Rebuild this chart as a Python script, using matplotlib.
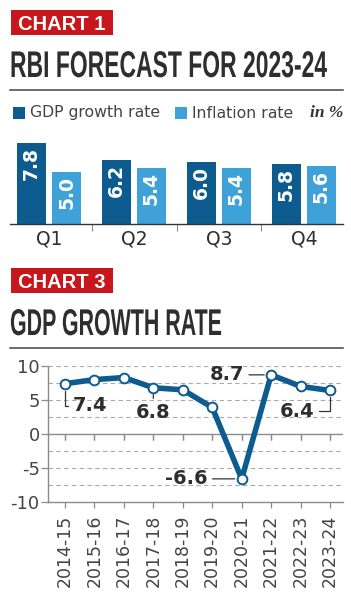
import matplotlib
matplotlib.use("Agg")
import matplotlib.pyplot as plt
import matplotlib.patheffects as pe
from matplotlib.patches import Rectangle
from matplotlib.transforms import Affine2D

# chart 1 data
quarters = ["Q1", "Q2", "Q3", "Q4"]
gdp_forecast = [7.8, 6.2, 6.0, 5.8]
inflation_forecast = [5.0, 5.4, 5.4, 5.6]

# chart 3 data
years = ["2014-15", "2015-16", "2016-17", "2017-18", "2018-19",
         "2019-20", "2020-21", "2021-22", "2022-23", "2023-24"]
gdp_growth = [7.4, 8.0, 8.3, 6.8, 6.5, 3.9, -6.6, 8.7, 7.0, 6.4]

DARK = "#0e5b8f"
LIGHT = "#3ea2d9"
RED = "#c8161d"
INK = "#2e2e2e"
GREY = "#8a8a8a"

W, H = 351, 599


class Stretch(pe.AbstractPathEffect):
    # tall condensed look for the headline text
    def __init__(self, sy):
        super().__init__()
        self.sy = sy

    def draw_path(self, renderer, gc, tpath, affine, rgbFace=None):
        renderer.draw_path(gc, tpath, Affine2D().scale(1, self.sy) + affine, rgbFace)


def box(x0, y0, x1, y1):
    return [x0 / W, 1 - y1 / H, (x1 - x0) / W, (y1 - y0) / H]


fig = plt.figure(figsize=(W / 100, H / 100), dpi=100)
fig.patch.set_facecolor("white")

bg = fig.add_axes([0, 0, 1, 1])
bg.set_xlim(0, W)
bg.set_ylim(H, 0)
bg.axis("off")

head_font = ["Liberation Sans", "DejaVu Sans"]


def header(label, title, top, size, sy):
    bg.add_patch(Rectangle((11, top), 102, 25, color=RED, lw=0))
    bg.text(62, top + 19.5, label, color="white", fontsize=14.5,
            fontweight="bold", ha="center", va="baseline",
            family=["Liberation Sans", "DejaVu Sans"])
    bg.text(10, top + 67, title, color=INK, fontsize=size, fontweight="bold",
            ha="left", va="baseline", family=head_font,
            path_effects=[Stretch(sy)])
    bg.plot([10, 343], [top + 80, top + 80], color="#444444", lw=1.1)


header("CHART 1", "RBI FORECAST FOR 2023-24", 10, 16.5, 1.62)
header("CHART 3", "GDP GROWTH RATE", 268, 15.4, 1.74)

# legend row
bg.add_patch(Rectangle((13, 107), 12, 12, color=DARK, lw=0))
bg.text(30, 113, "GDP growth rate", fontsize=11.3, color="#444444",
        va="center", ha="left")
bg.add_patch(Rectangle((175, 107), 12, 12, color=LIGHT, lw=0))
bg.text(192, 113, "Inflation rate", fontsize=11.3, color="#444444",
        va="center", ha="left")
bg.text(343, 113, "in %", fontsize=12.5, color="#333333", style="italic",
        fontweight="semibold", family=["Liberation Serif", "DejaVu Serif"],
        va="center", ha="right")

# chart 1: grouped bars
ax1 = fig.add_axes(box(10, 135, 343, 224))
xs = range(len(quarters))
off = 0.206
wd = 0.341
ax1.bar([x - off for x in xs], gdp_forecast, width=wd, color=DARK)
ax1.bar([x + off for x in xs], inflation_forecast, width=wd, color=LIGHT)
for x, g, i in zip(xs, gdp_forecast, inflation_forecast):
    for xx, v in ((x - off, g), (x + off, i)):
        ax1.annotate(f"{v:.1f}", (xx, v), xytext=(0, -4),
                     textcoords="offset pixels", rotation=90, ha="center",
                     va="top", color="white", fontsize=13.5, fontweight="bold")
ax1.set_xlim(-0.46, 3.46)
ax1.set_ylim(0, 8.56)
ax1.set_xticks(list(xs))
ax1.set_xticklabels(quarters, fontsize=13.5, color=INK)
ax1.set_xticks([0.5, 1.5, 2.5], minor=True)
ax1.tick_params(axis="x", which="major", length=0, pad=4)
ax1.tick_params(axis="x", which="minor", length=5, color=GREY, width=0.8)
ax1.set_yticks([])
for s in ("top", "left", "right"):
    ax1.spines[s].set_visible(False)
ax1.spines["bottom"].set_color("#333333")
ax1.spines["bottom"].set_linewidth(1.0)
ax1.patch.set_alpha(0)

# chart 3: line
ax2 = fig.add_axes(box(48, 366, 343, 502))
pos = list(range(len(years)))
for gy in (10, 7.5, 5, 2.5, -2.5, -5, -7.5):
    ax2.axhline(gy, color="#aaaaaa", lw=0.8, ls=(0, (4, 3)), zorder=0)
ax2.axhline(0, color=GREY, lw=1.0, zorder=1)
ax2.plot(pos, gdp_growth, color=DARK, lw=4.0, solid_capstyle="round",
         marker="o", markersize=7, markerfacecolor="white",
         markeredgecolor=DARK, markeredgewidth=1.4, zorder=3)
# zero-line ticks
for p in pos:
    ax2.plot([p, p], [0, 0], marker=3, color=GREY, markersize=4,
             markeredgewidth=0.9, zorder=1)

notes = [
    # index, offset px, ha, relpos, connection
    (0, (8, -22), "left", (0, 0.5), "angle,angleA=0,angleB=90,rad=0"),
    (3, (0, -25), "center", (0.5, 1), "arc3"),
    (6, (-34, 0), "right", (1, 0.5), "arc3"),
    (7, (-27, 0), "right", (1, 0.5), "arc3"),
    (9, (-16, -21), "right", (1, 0.5), "angle,angleA=0,angleB=90,rad=0"),
]
for idx, offs, ha, rp, conn in notes:
    ax2.annotate(f"{gdp_growth[idx]:.1f}", (pos[idx], gdp_growth[idx]),
                 xytext=offs, textcoords="offset pixels", ha=ha, va="center",
                 fontsize=14, fontweight="bold", color=INK, zorder=4,
                 arrowprops=dict(arrowstyle="-", color="#333333", lw=0.9,
                                 connectionstyle=conn, relpos=rp,
                                 shrinkA=1.5, shrinkB=5))

ax2.set_xlim(-0.577, 9.44)
ax2.set_ylim(-10, 10)
ax2.set_yticks([10, 5, 0, -5, -10])
ax2.set_yticklabels(["10", "5", "0", "-5", "-10"], fontsize=13, color="#444444")
ax2.set_xticks(pos)
ax2.set_xticklabels(years, rotation=90, fontsize=12.5, color="#444444")
ax2.tick_params(axis="y", length=5, color=GREY, width=0.9, pad=1)
ax2.tick_params(axis="x", length=4, color=GREY, width=0.9, pad=5)
for s in ("top", "right"):
    ax2.spines[s].set_visible(False)
for s in ("left", "bottom"):
    ax2.spines[s].set_color(GREY)
    ax2.spines[s].set_linewidth(1.0)
ax2.patch.set_alpha(0)

fig.savefig("out.png", dpi=100)
